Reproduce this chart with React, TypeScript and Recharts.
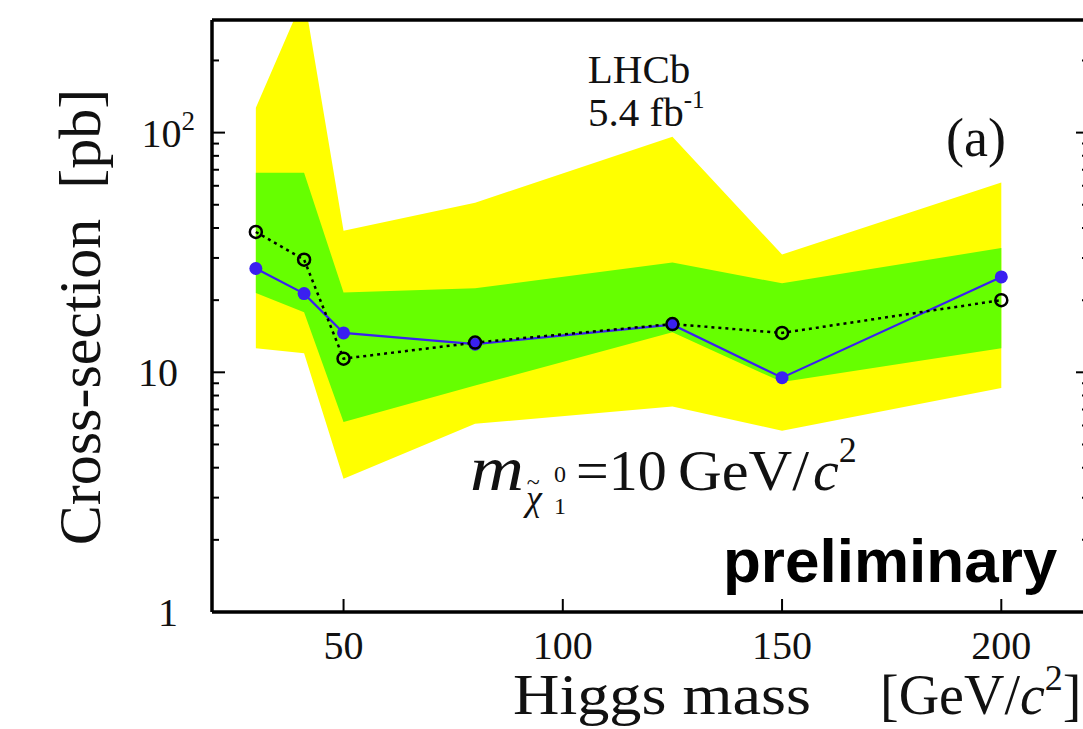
import React from 'react';
import { ComposedChart, Area, Line, XAxis, YAxis } from 'recharts';

// Higgs mass points [GeV/c^2]
const masses = [30, 41, 50, 80, 125, 150, 200];
// cross-section limits [pb]
const observed = [27.1, 21.3, 14.6, 13.1, 15.8, 9.5, 25.0];
const expected = [38.5, 29.5, 11.4, 13.3, 15.9, 14.6, 20.0];
const sigma1Low = [21.4, 17.8, 6.2, 8.8, 14.7, 9.1, 12.6];
const sigma1High = [68, 68, 21.5, 22.4, 28.7, 23.5, 33];
const sigma2Low = [12.6, 12.0, 3.6, 6.1, 7.2, 5.7, 8.6];
const sigma2High = [127, 370, 39, 51, 96, 31, 62];

const xMajor = [50, 100, 150, 200];
const xMinor = [30, 40, 60, 70, 80, 90, 110, 120, 130, 140, 160, 170, 180, 190, 210];
const yMajor = [1, 10, 100];
const yMinor = [2, 3, 4, 5, 6, 7, 8, 9, 20, 30, 40, 50, 60, 70, 80, 90, 200];

const data = masses.map((m, i) => ({
  mass: m,
  observed: observed[i],
  expected: expected[i],
  sigma1: [sigma1Low[i], sigma1High[i]],
  sigma2: [sigma2Low[i], sigma2High[i]],
}));

const SERIF = '"Liberation Serif", "Times New Roman", serif';
const frame = { stroke: '#000', strokeWidth: 3.5 };

// tick marks point into the plot, like ROOT frames
const BottomMajorTick = (props: any) => {
  const { x, y, payload } = props;
  return (
    <g>
      <line x1={x} x2={x} y1={y} y2={y - 13} stroke="#000" strokeWidth={2} />
      <text x={x} y={y + 19} dy="0.71em" textAnchor="middle" fontFamily={SERIF} fontSize={40} fill="#111">
        {payload.value}
      </text>
    </g>
  );
};

const BottomMinorTick = (props: any) => (
  <line x1={props.x} x2={props.x} y1={props.y - 1} y2={props.y - 8} stroke="#000" strokeWidth={2} />
);

const TopMajorTick = (props: any) => (
  <line x1={props.x} x2={props.x} y1={props.y} y2={props.y + 13} stroke="#000" strokeWidth={2} />
);

const TopMinorTick = (props: any) => (
  <line x1={props.x} x2={props.x} y1={props.y + 1} y2={props.y + 8} stroke="#000" strokeWidth={2} />
);

const LeftMajorTick = (props: any) => {
  const { x, y, payload } = props;
  const lx = x - 34;
  return (
    <g>
      <line x1={x} x2={x + 13} y1={y} y2={y} stroke="#000" strokeWidth={2} />
      {payload.value === 100 ? (
        <text x={lx + 17} y={y} dy="0.35em" textAnchor="end" fontFamily={SERIF} fontSize={40} fill="#111">
          10
          <tspan fontSize={27} dy={-17}>2</tspan>
        </text>
      ) : (
        <text x={lx} y={y} dy="0.35em" textAnchor="end" fontFamily={SERIF} fontSize={40} fill="#111">
          {payload.value}
        </text>
      )}
    </g>
  );
};

const LeftMinorTick = (props: any) => (
  <line x1={props.x + 1} x2={props.x + 8} y1={props.y} y2={props.y} stroke="#000" strokeWidth={2} />
);

const RightMajorTick = (props: any) => (
  <line x1={props.x} x2={props.x - 13} y1={props.y} y2={props.y} stroke="#000" strokeWidth={2} />
);

const RightMinorTick = (props: any) => (
  <line x1={props.x - 1} x2={props.x - 8} y1={props.y} y2={props.y} stroke="#000" strokeWidth={2} />
);

const OpenDot = (props: any) => {
  const { cx, cy, index } = props;
  return <circle key={`e-${index}`} cx={cx} cy={cy} r={6} fill="none" stroke="#000" strokeWidth={2.5} />;
};

const App = () => {
  return (
    <div style={{ position: 'absolute', left: 0, top: 0, width: 1083, height: 729, overflow: 'hidden', background: '#fff' }}>
      <ComposedChart width={1100} height={729} data={data} margin={{ top: 18, left: 210, right: 9, bottom: 115 }}>
        <XAxis xAxisId="x" dataKey="mass" type="number" domain={[20, 220]} allowDataOverflow ticks={xMajor} interval={0}
          height={1} tickSize={0} tickMargin={0} axisLine={frame} tickLine={false} tick={BottomMajorTick} />
        <XAxis xAxisId="xm" type="number" domain={[20, 220]} allowDataOverflow ticks={xMinor} interval={0}
          height={1} tickSize={0} tickMargin={0} axisLine={false} tickLine={false} tick={BottomMinorTick} />
        <XAxis xAxisId="xt" orientation="top" type="number" domain={[20, 220]} allowDataOverflow ticks={xMajor} interval={0}
          height={1} tickSize={0} tickMargin={0} axisLine={frame} tickLine={false} tick={TopMajorTick} />
        <XAxis xAxisId="xtm" orientation="top" type="number" domain={[20, 220]} allowDataOverflow ticks={xMinor} interval={0}
          height={1} tickSize={0} tickMargin={0} axisLine={false} tickLine={false} tick={TopMinorTick} />

        <YAxis yAxisId="y" type="number" scale="log" domain={[1, 295]} allowDataOverflow ticks={yMajor} interval={0}
          width={1} tickSize={0} tickMargin={0} axisLine={frame} tickLine={false} tick={LeftMajorTick} />
        <YAxis yAxisId="ym" type="number" scale="log" domain={[1, 295]} allowDataOverflow ticks={yMinor} interval={0}
          width={1} tickSize={0} tickMargin={0} axisLine={false} tickLine={false} tick={LeftMinorTick} />
        <YAxis yAxisId="yr" orientation="right" type="number" scale="log" domain={[1, 295]} allowDataOverflow ticks={yMajor} interval={0}
          width={1} tickSize={0} tickMargin={0} axisLine={frame} tickLine={false} tick={RightMajorTick} />
        <YAxis yAxisId="yrm" orientation="right" type="number" scale="log" domain={[1, 295]} allowDataOverflow ticks={yMinor} interval={0}
          width={1} tickSize={0} tickMargin={0} axisLine={false} tickLine={false} tick={RightMinorTick} />

        <Area xAxisId="x" yAxisId="y" type="linear" dataKey="sigma2" fill="#ffff00" fillOpacity={1} stroke="none" isAnimationActive={false} />
        <Area xAxisId="x" yAxisId="y" type="linear" dataKey="sigma1" fill="#66ff00" fillOpacity={1} stroke="none" isAnimationActive={false} />
        <Line xAxisId="x" yAxisId="y" type="linear" dataKey="observed" stroke="#3a20f0" strokeWidth={2.2}
          dot={{ r: 6.5, fill: '#3a20f0', stroke: 'none' }} isAnimationActive={false} />
        <Line xAxisId="x" yAxisId="y" type="linear" dataKey="expected" stroke="#000" strokeWidth={2.5} strokeDasharray="3 4"
          dot={OpenDot} isAnimationActive={false} />

        <text transform="translate(100,317) rotate(-90)" textAnchor="middle" fontFamily={SERIF} fontSize={60} fill="#111" style={{ whiteSpace: 'pre' }}>
          Cross-section  [pb]
        </text>
        <text x={513} y={714} fontFamily={SERIF} fontSize={56} fill="#111" textLength={298} lengthAdjust="spacingAndGlyphs">Higgs mass</text>
        <text x={880} y={714} fontFamily={SERIF} fontSize={56} fill="#111">
          [GeV/<tspan fontStyle="italic">c</tspan>
          <tspan fontSize={36} dy={-24}>2</tspan>
          <tspan dy={24}>]</tspan>
        </text>
        <text x={639} y={83} textAnchor="middle" fontFamily={SERIF} fontSize={41} fill="#111">LHCb</text>
        <text x={588} y={126} fontFamily={SERIF} fontSize={41} fill="#111">
          5.4 fb<tspan fontSize={25} dy={-18}>-1</tspan>
        </text>
        <text x={976} y={156} textAnchor="middle" fontFamily={SERIF} fontSize={54} fill="#111">(a)</text>
        <text x={470} y={490} fontFamily={SERIF} fontStyle="italic" fontSize={64} fill="#111" textLength={54} lengthAdjust="spacingAndGlyphs">m</text>
        <text x={526} y={510} fontFamily={SERIF} fontStyle="italic" fontSize={36} fill="#111">
          χ<tspan fontStyle="normal" fontSize={24} dx={-15} dy={-20}>~</tspan>
        </text>
        <text x={554} y={482} fontFamily={SERIF} fontSize={24} fill="#111">0</text>
        <text x={554} y={514} fontFamily={SERIF} fontSize={24} fill="#111">1</text>
        <text x={576} y={490} fontFamily={SERIF} fontSize={58} fill="#111">=10</text>
        <text x={678} y={490} fontFamily={SERIF} fontSize={58} fill="#111" textLength={131} lengthAdjust="spacingAndGlyphs">GeV/</text>
        <text x={813} y={490} fontFamily={SERIF} fontSize={58} fill="#111">
          <tspan fontStyle="italic">c</tspan>
          <tspan fontSize={36} dy={-28}>2</tspan>
        </text>
        <text x={723} y={582} fontFamily='"Liberation Sans", Arial, sans-serif' fontWeight="bold" fontSize={62} fill="#000">
          preliminary
        </text>
      </ComposedChart>
    </div>
  );
};

export default App;
